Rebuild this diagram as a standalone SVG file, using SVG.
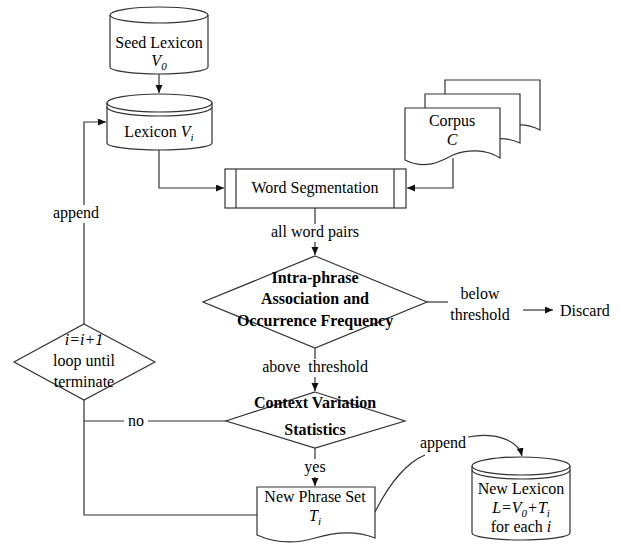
<svg xmlns="http://www.w3.org/2000/svg" width="619" height="544" viewBox="0 0 619 544">
<style>
.s{fill:none;stroke:#333;stroke-width:1.2}
.n{fill:#fff;stroke:#333;stroke-width:1.2}
.bg{fill:#fff;stroke:none}
text{font-family:"Liberation Serif","Times New Roman",serif;font-size:16px;fill:#000}
.b{font-weight:bold}
.m{text-anchor:middle}
.i{font-style:italic}
.sub{font-size:11px;font-style:italic}
</style>
<defs>
<marker id="ah" markerUnits="userSpaceOnUse" markerWidth="9" markerHeight="8" refX="8" refY="3.5" orient="auto">
<path d="M0,0 L8,3.5 L0,7 z" fill="#111"/>
</marker>
</defs>
<rect width="619" height="544" fill="#fff"/>

<g id="connectors">
<path class="s" d="M159,74 V93" marker-end="url(#ah)"/>
<path class="s" d="M159,150 V188 H224" marker-end="url(#ah)"/>
<path class="s" d="M453,158 V188 H407" marker-end="url(#ah)"/>
<path class="s" d="M315,208 V255" marker-end="url(#ah)"/>
<path class="s" d="M427,302 H448"/>
<path class="s" d="M523,310 H553" marker-end="url(#ah)"/>
<path class="s" d="M315,348 V391" marker-end="url(#ah)"/>
<path class="s" d="M315,448 V486" marker-end="url(#ah)"/>
<path class="s" d="M226,421 H84 V400"/>
<path class="s" d="M257,515 H84 V421"/>
<path class="s" d="M84,324 V122 H106" marker-end="url(#ah)"/>
<path class="s" d="M375,512 C390,482 408,462 425,455"/>
<path class="s" d="M468,437 C495,432 518,440 522,456" marker-end="url(#ah)"/>
<rect class="bg" x="267" y="224" width="96" height="18"/>
<text class="m" x="315" y="237">all word pairs</text>
<text class="m" x="480" y="299">below</text>
<text class="m" x="480" y="320">threshold</text>
<rect class="bg" x="256" y="359" width="118" height="18"/>
<text class="m" x="315" y="372" xml:space="preserve">above  threshold</text>
<rect class="bg" x="302" y="459" width="26" height="18"/>
<text class="m" x="315" y="472">yes</text>
<rect class="bg" x="124" y="412" width="24" height="18"/>
<text class="m" x="136" y="426">no</text>
<rect class="bg" x="50" y="205" width="52" height="18"/>
<text class="m" x="76" y="218">append</text>
<text class="m" x="443" y="448">append</text>
</g>

<g id="seed-lexicon">
<path class="n" d="M110,15 A49,8 0 0,1 208,15 V67 A49,7 0 0,1 110,67 Z"/>
<path class="s" d="M110,15 A49,8 0 0,0 208,15"/>
<text class="m" x="159" y="48">Seed Lexicon</text>
<text class="m" x="159" y="66"><tspan class="i">V</tspan><tspan class="sub" dy="4">0</tspan></text>
</g>

<g id="lexicon-vi">
<path class="n" d="M107,103 A52.5,9 0 0,1 212,103 V143 A52.5,7 0 0,1 107,143 Z"/>
<path class="s" d="M107,103 A52.5,9 0 0,0 212,103"/>
<path class="s" d="M107,107 A52.5,9 0 0,0 212,107"/>
<text class="m" x="159" y="137">Lexicon <tspan class="i">V</tspan><tspan class="sub" dy="4">i</tspan></text>
</g>

<g id="corpus">
<path class="n" d="M445,80 H540 V130 C525,122 510,124 493,131 C480,137 460,137 445,130 Z"/>
<path class="n" d="M425,94 H520 V143 C505,136 490,138 473,144 C460,150 440,150 425,144 Z"/>
<path class="n" d="M405,108 H500 V158 C485,148 465,150 453,155 C440,162 425,170 405,160 Z"/>
<text class="m" x="452" y="126">Corpus</text>
<text class="m i" x="452" y="145">C</text>
</g>

<g id="word-segmentation">
<rect class="n" x="225" y="169" width="181" height="39"/>
<path class="s" d="M236,169 V208 M394,169 V208"/>
<text class="m" x="315" y="193">Word Segmentation</text>
</g>

<g id="intra-phrase">
<path class="n" d="M315,256 L427,302 L315,348 L203,302 Z"/>
<text class="m b" x="315" y="283">Intra-phrase</text>
<text class="m b" x="315" y="304">Association and</text>
<text class="m b" x="315" y="326">Occurrence Frequency</text>
</g>

<g id="discard">
<text x="560" y="316">Discard</text>
</g>

<g id="context-variation">
<path class="n" d="M315,392 L405,421 L315,448 L226,421 Z"/>
<text class="m b" x="315" y="408">Context Variation</text>
<text class="m b" x="315" y="435">Statistics</text>
</g>

<g id="loop">
<path class="n" d="M84,324 L155,362 L84,400 L14,362 Z"/>
<text class="m i" x="84" y="345">i=i+1</text>
<text class="m" x="84" y="366">loop until</text>
<text class="m" x="84" y="387">terminate</text>
</g>

<g id="new-phrase-set">
<path class="n" d="M257,487 H375 V538 C355,530 335,532 315,538 C295,544 275,543 257,535 Z"/>
<text class="m" x="315" y="502">New Phrase Set</text>
<text class="m" x="315" y="521"><tspan class="i">T</tspan><tspan class="sub" dy="4">i</tspan></text>
</g>

<g id="new-lexicon">
<path class="n" d="M472,466 A49,9 0 0,1 570,466 V533 A49,7 0 0,1 472,533 Z"/>
<path class="s" d="M472,466 A49,9 0 0,0 570,466"/>
<path class="s" d="M472,470 A49,9 0 0,0 570,470"/>
<text class="m" x="521" y="494">New Lexicon</text>
<text class="m i" x="521" y="513">L=V<tspan class="sub" dy="4">0</tspan><tspan dy="-4">+T</tspan><tspan class="sub" dy="4">i</tspan></text>
<text class="m" x="521" y="532">for each <tspan class="i">i</tspan></text>
</g>
</svg>
